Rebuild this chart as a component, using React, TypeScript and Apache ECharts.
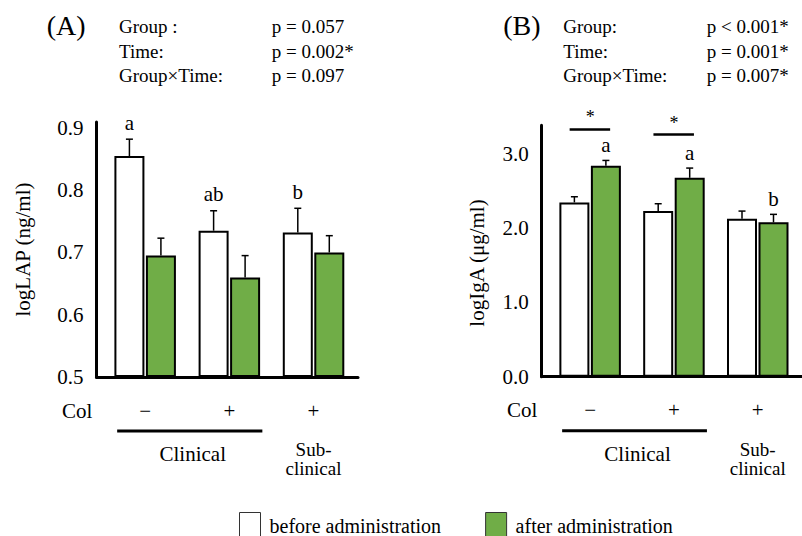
import React, { useEffect, useRef } from 'react';
import * as echarts from 'echarts';

const FONT = '"Liberation Serif", "Times New Roman", serif';

// categories (groups) and x labels
const colLabels = ['−', '+', '+'];
const groupNames = ['Clinical', 'Sub-', 'clinical'];
const seriesNames = ['before administration', 'after administration'];

// Panel A: logLAP (ng/ml)
const lapBefore = [0.855, 0.735, 0.732];
const lapBeforeSE = [0.027, 0.032, 0.039];
const lapAfter = [0.695, 0.66, 0.7];
const lapAfterSE = [0.028, 0.035, 0.027];
const lapLetters = ['a', 'ab', 'b']; // above "before" bars
const lapTerms = ['Group :', 'Time:', 'Group×Time:'];
const lapStats = ['p = 0.057', 'p = 0.002*', 'p = 0.097'];

// Panel B: logIgA (μg/ml)
const igaBefore = [2.347, 2.23, 2.127];
const igaBeforeSE = [0.076, 0.099, 0.103];
const igaAfter = [2.84, 2.678, 2.078];
const igaAfterSE = [0.072, 0.131, 0.108];
const igaLetters = ['a', 'a', 'b']; // above "after" bars
const igaSigGroups = [0, 1];
const igaSigLevels = [3.33, 3.26];
const igaTerms = ['Group:', 'Time:', 'Group×Time:'];
const igaStats = ['p < 0.001*', 'p = 0.001*', 'p = 0.007*'];

const GREEN = '#70AD47';
const BAR_OFFSET = 15.75;

function errData(before: number[], bSE: number[], after: number[], aSE: number[]) {
  const d: number[][] = [];
  before.forEach((v, i) => {
    d.push([i, v + bSE[i], -1, v]);
    d.push([i, after[i] + aSE[i], 1, after[i]]);
  });
  return d;
}

function makeErr(letters: string[], letterSide: number, gap: number) {
  return (params: any, api: any) => {
    const i = api.value(0);
    const side = api.value(2);
    const top = api.coord([i, api.value(1)]);
    const base = api.coord([i, api.value(3)]);
    const x = top[0] + side * BAR_OFFSET;
    const children: any[] = [
      { type: 'line', shape: { x1: x, y1: base[1], x2: x, y2: top[1] }, style: { stroke: '#000', lineWidth: 1.5 } },
      { type: 'line', shape: { x1: x - 3.5, y1: top[1], x2: x + 3.5, y2: top[1] }, style: { stroke: '#000', lineWidth: 1.5 } },
    ];
    if (side === letterSide && letters[i]) {
      children.push({
        type: 'text', x, y: top[1] - gap,
        style: { text: letters[i], fontFamily: FONT, fontSize: 21, fill: '#000', align: 'center', verticalAlign: 'bottom' },
      });
    }
    return { type: 'group', children };
  };
}

function makeAnnot(colDy: number) {
  return (params: any, api: any) => {
    const i = params.dataIndex;
    const p = api.coord([api.value(0), api.value(1)]);
    const cx = p[0];
    const ay = p[1];
    const t = (text: string, x: number, y: number, size: number) => ({
      type: 'text', x, y,
      style: { text, fontFamily: FONT, fontSize: size, fill: '#000', align: 'center', verticalAlign: 'middle' },
    });
    const children: any[] = [t(colLabels[i], cx, ay + colDy, 21)];
    if (i === 0) {
      const p1 = api.coord([1, api.value(1)]);
      children.push(t('Col', cx - 68, ay + colDy, 21));
      children.push({ type: 'line', shape: { x1: cx - 28, y1: ay + 54, x2: p1[0] + 33, y2: ay + 54 }, style: { stroke: '#000', lineWidth: 3 } });
      children.push(t(groupNames[0], (cx + p1[0]) / 2 + 5.5, ay + 77, 21));
    }
    if (i === 2) {
      children.push(t(groupNames[1], cx, ay + 72.5, 19));
      children.push(t(groupNames[2], cx, ay + 91.5, 19));
    }
    return { type: 'group', children };
  };
}

function sigRender(params: any, api: any) {
  const p = api.coord([api.value(0), api.value(1)]);
  return {
    type: 'group',
    children: [
      { type: 'line', shape: { x1: p[0] - 20.5, y1: p[1], x2: p[0] + 20, y2: p[1] }, style: { stroke: '#000', lineWidth: 2.5 } },
      { type: 'text', x: p[0], y: p[1] - 3, style: { text: '*', fontFamily: FONT, fontSize: 18, fill: '#000', align: 'center', verticalAlign: 'bottom' } },
    ],
  };
}

function headerTexts(label: string, lx: number, tx: number, px: number, terms: string[], stats: string[]) {
  const rows = [28, 52.5, 77];
  const els: any[] = [
    { type: 'text', left: lx, top: 28 - 17, style: { text: label, fontFamily: FONT, fontSize: 28, fill: '#000' } },
  ];
  terms.forEach((s, k) => {
    els.push({ type: 'text', left: tx, top: rows[k] - 11, style: { text: s, fontFamily: FONT, fontSize: 19, fill: '#000' } });
    els.push({ type: 'text', left: px, top: rows[k] - 11, style: { text: stats[k], fontFamily: FONT, fontSize: 19, fill: '#000' } });
  });
  return els;
}

export default function App() {
  const ref = useRef<HTMLDivElement>(null);
  useEffect(() => {
    if (!ref.current) return;
    const chart = echarts.init(ref.current, undefined, { renderer: 'svg' });
    const xAxisBase = {
      type: 'value', min: -0.578, max: 2.528,
      axisLabel: { show: false }, axisTick: { show: false }, splitLine: { show: false },
      axisLine: { show: true, onZero: false, lineStyle: { color: '#000', width: 3 } },
    };
    const yAxisBase = {
      type: 'value', nameLocation: 'middle',
      axisTick: { show: false }, splitLine: { show: false },
      axisLine: { show: true, onZero: false, lineStyle: { color: '#000', width: 3 } },
      axisLabel: { fontFamily: FONT, fontSize: 21, color: '#000', margin: 13, showMaxLabel: false, formatter: (v: number) => v.toFixed(1) },
    };
    const barBefore = { type: 'bar', name: seriesNames[0], barWidth: 30, barGap: '5%', itemStyle: { color: '#fff', borderColor: '#000', borderWidth: 2 } };
    const barAfter = { type: 'bar', name: seriesNames[1], barWidth: 30, barGap: '5%', itemStyle: { color: GREEN, borderColor: '#000', borderWidth: 2 } };
    const option: any = {
      animation: false,
      backgroundColor: '#fff',
      grid: [
        { left: 96.5, top: 122, width: 261.5, height: 255 },
        { left: 541.7, top: 125.3, width: 262, height: 251.4 },
      ],
      xAxis: [
        { ...xAxisBase, gridIndex: 0 },
        { ...xAxisBase, gridIndex: 1 },
      ],
      yAxis: [
        {
          ...yAxisBase, gridIndex: 0, min: 0.5, max: 0.9096, interval: 0.1, startValue: 0.5,
          name: 'logLAP (ng/ml)', nameGap: 63,
          nameTextStyle: { fontFamily: FONT, fontSize: 21, color: '#000' },
        },
        {
          ...yAxisBase, gridIndex: 1, min: 0, max: 3.385, interval: 1,
          name: 'logIgA (μg/ml)', nameGap: 54,
          nameTextStyle: { fontFamily: FONT, fontSize: 21, color: '#000', padding: [0, 24, 0, 0] },
        },
      ],
      legend: {
        data: seriesNames, left: 239, top: 512, padding: 0, icon: 'rect',
        itemWidth: 21, itemHeight: 26, itemGap: 44, selectedMode: false,
        itemStyle: { borderWidth: 1, borderColor: '#333' },
        textStyle: { fontFamily: FONT, fontSize: 20, color: '#000', padding: [0, 0, 0, 4] },
      },
      graphic: [
        ...headerTexts('(A)', 46.7, 119, 271.7, lapTerms, lapStats),
        ...headerTexts('(B)', 503.3, 563.3, 706.7, igaTerms, igaStats),
      ],
      series: [
        { ...barBefore, xAxisIndex: 0, yAxisIndex: 0, data: lapBefore.map((v, i) => [i, v]) },
        { ...barAfter, xAxisIndex: 0, yAxisIndex: 0, data: lapAfter.map((v, i) => [i, v]) },
        { ...barBefore, xAxisIndex: 1, yAxisIndex: 1, data: igaBefore.map((v, i) => [i, v]) },
        { ...barAfter, xAxisIndex: 1, yAxisIndex: 1, data: igaAfter.map((v, i) => [i, v]) },
        { type: 'custom', xAxisIndex: 0, yAxisIndex: 0, clip: false, z: 5, renderItem: makeErr(lapLetters, -1, 6), data: errData(lapBefore, lapBeforeSE, lapAfter, lapAfterSE) },
        { type: 'custom', xAxisIndex: 1, yAxisIndex: 1, clip: false, z: 5, renderItem: makeErr(igaLetters, 1, 5), data: errData(igaBefore, igaBeforeSE, igaAfter, igaAfterSE) },
        { type: 'custom', xAxisIndex: 0, yAxisIndex: 0, clip: false, renderItem: makeAnnot(34), data: colLabels.map((_, i) => [i, 0.5]) },
        { type: 'custom', xAxisIndex: 1, yAxisIndex: 1, clip: false, renderItem: makeAnnot(33), data: colLabels.map((_, i) => [i, 0]) },
        { type: 'custom', xAxisIndex: 1, yAxisIndex: 1, clip: false, renderItem: sigRender, data: igaSigGroups.map((g, k) => [g, igaSigLevels[k]]) },
      ],
    };
    chart.setOption(option);
    return () => chart.dispose();
  }, []);
  return <div ref={ref} style={{ position: 'fixed', left: 0, top: 0, width: 802, height: 536 }} />;
}
